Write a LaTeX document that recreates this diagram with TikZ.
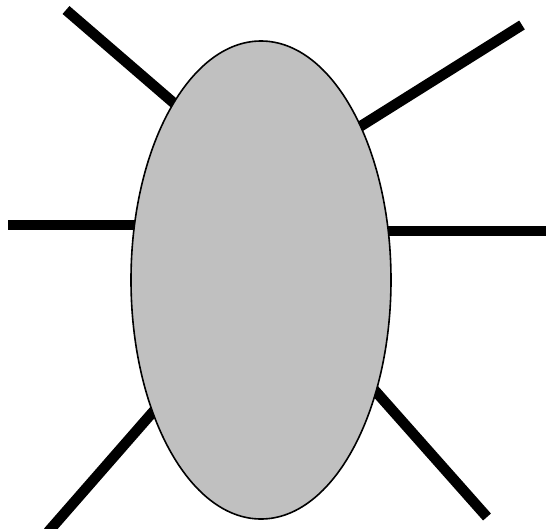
\documentclass[tikz,border=0pt]{standalone}
\usetikzlibrary{shapes.geometric}
\definecolor{bodygray}{HTML}{C0C0C0}
\begin{document}
\begin{tikzpicture}[x=1pt,y=-1pt,
  leg/.style={line width=10.5pt,black},
  body/.style={draw=black,line width=1.6pt,fill=bodygray}]
\useasboundingbox (0,0) rectangle (546,528);
\coordinate (a1) at (66,10);   \coordinate (b1) at (190,117);
\coordinate (a2) at (522,25);  \coordinate (b2) at (345,136);
\coordinate (a3) at (8,225);   \coordinate (b3) at (150,225);
\coordinate (a4) at (560,231); \coordinate (b4) at (372,231);
\coordinate (a5) at (48,532);  \coordinate (b5) at (166,397);
\coordinate (a6) at (487,517); \coordinate (b6) at (362,376);
\foreach \i in {1,...,6} \draw[leg] (a\i) -- (b\i);
\node[body,ellipse,minimum width=260pt,minimum height=478pt,inner sep=0pt] (e) at (261,280) {};
\end{tikzpicture}
\end{document}
